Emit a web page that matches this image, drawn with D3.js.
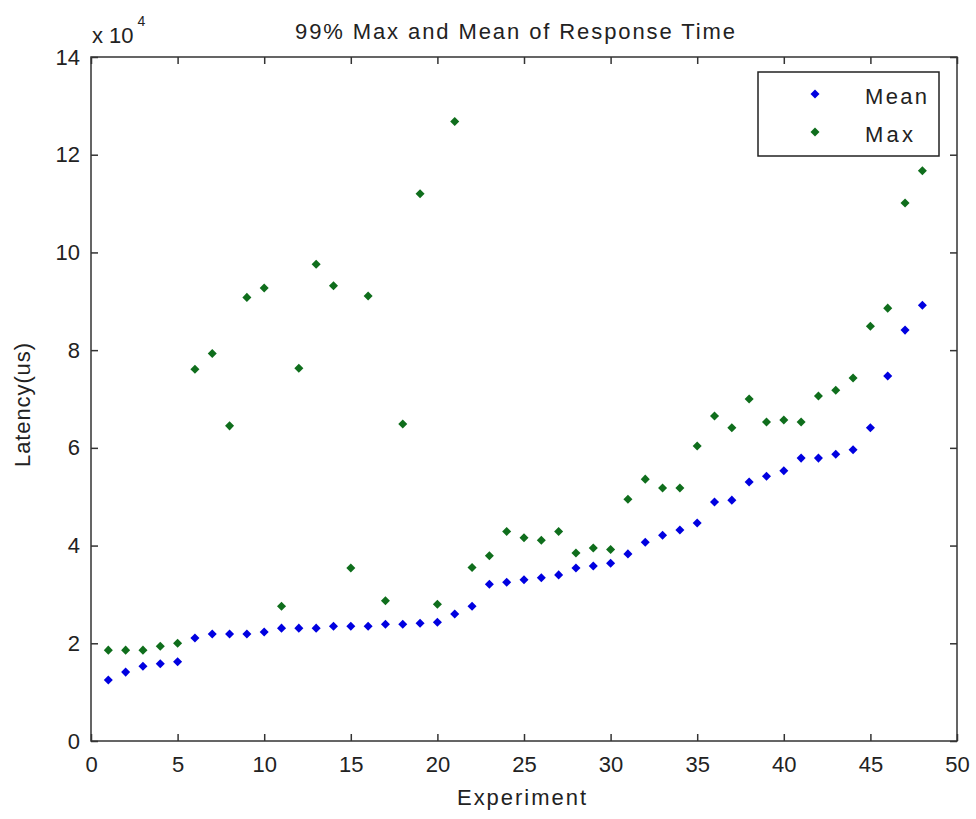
<!DOCTYPE html>
<html>
<head>
<meta charset="utf-8">
<script src="https://cdn.jsdelivr.net/npm/d3@7"></script>
<style>
  body { margin: 0; background: #fff; }
  text { font-family: "Liberation Sans", Arial, sans-serif; fill: #222; }
</style>
</head>
<body>
<div id="chart"></div>
<script>
// latency values in microseconds, experiments 1..48
const experiments = d3.range(1, 49);
const meanLatency = [12500, 14100, 15300, 15800, 16200, 21100, 21900, 21900, 21900, 22300,
  23100, 23100, 23100, 23500, 23500, 23500, 23900, 23900, 24100, 24300,
  26000, 27600, 32100, 32500, 33000, 33400, 34000, 35400, 35800, 36400,
  38300, 40700, 42100, 43200, 44600, 48900, 49300, 53000, 54200, 55300,
  57900, 57900, 58700, 59600, 64100, 74700, 84100, 89200];
const maxLatency = [18600, 18600, 18600, 19400, 20000, 76100, 79300, 64500, 90800, 92700,
  27600, 76300, 97600, 93200, 35400, 91100, 28700, 64900, 112000, 28000,
  126800, 35500, 37900, 42900, 41600, 41100, 42900, 38500, 39500, 39200,
  49500, 53600, 51800, 51800, 60400, 66500, 64100, 70000, 65300, 65700,
  65300, 70600, 71800, 74300, 84900, 88600, 110100, 116700];
const xTicks = d3.range(0, 51, 5);
const yTicks = d3.range(0, 140001, 20000);
const seriesNames = ["Mean", "Max"];
const seriesColors = ["#0000e0", "#0f6e1c"];

const width = 976, height = 819;
const margin = { left: 91, right: 19, top: 57, bottom: 78 };

const svg = d3.select("#chart").append("svg")
  .attr("width", width)
  .attr("height", height);

const x = d3.scaleLinear().domain([0, 50]).range([margin.left, width - margin.right]);
const y = d3.scaleLinear().domain([0, 140000]).range([height - margin.bottom, margin.top]);

// box
svg.append("rect")
  .attr("x", x(0)).attr("y", y(140000))
  .attr("width", x(50) - x(0)).attr("height", y(0) - y(140000))
  .attr("fill", "none").attr("stroke", "#333").attr("stroke-width", 1.5);

// axes, ticks pointing inward like matlab
const fmtY = d => d / 10000;
svg.append("g")
  .attr("transform", `translate(0,${y(0)})`)
  .call(d3.axisBottom(x).tickValues(xTicks).tickSizeInner(-7).tickSizeOuter(0).tickPadding(15))
  .call(g => g.select(".domain").remove());
svg.append("g")
  .attr("transform", `translate(0,${y(140000)})`)
  .call(d3.axisTop(x).tickValues(xTicks).tickSizeInner(-7).tickSizeOuter(0).tickFormat(""))
  .call(g => g.select(".domain").remove());
svg.append("g")
  .attr("transform", `translate(${x(0)},0)`)
  .call(d3.axisLeft(y).tickValues(yTicks).tickFormat(fmtY).tickSizeInner(-7).tickSizeOuter(0).tickPadding(11))
  .call(g => g.select(".domain").remove());
svg.append("g")
  .attr("transform", `translate(${x(50)},0)`)
  .call(d3.axisRight(y).tickValues(yTicks).tickSizeInner(-7).tickSizeOuter(0).tickFormat(""))
  .call(g => g.select(".domain").remove());

svg.selectAll(".tick line").attr("stroke", "#333").attr("stroke-width", 1.5);
svg.selectAll(".tick text").attr("font-size", 22).style("fill", "#222")
  .attr("font-family", "Liberation Sans, Arial, sans-serif");

// multiplier label
const mult = svg.append("text").attr("x", 92).attr("y", 43).attr("font-size", 22);
mult.append("tspan").text("x 10");
mult.append("tspan").attr("dx", 4).attr("dy", -17).attr("font-size", 14).text("4");

// title and labels
svg.append("text")
  .attr("x", 295).attr("y", 39)
  .attr("font-size", 22)
  .attr("textLength", 440).attr("lengthAdjust", "spacing")
  .text("99% Max and Mean of Response Time");
svg.append("text")
  .attr("x", 457).attr("y", 805)
  .attr("font-size", 22)
  .attr("textLength", 129).attr("lengthAdjust", "spacing")
  .text("Experiment");
svg.append("text")
  .attr("transform", `translate(30,467) rotate(-90)`)
  .attr("font-size", 22)
  .attr("textLength", 124).attr("lengthAdjust", "spacing")
  .text("Latency(us)");

// points
const diamond = d3.symbol().type(d3.symbolDiamond2).size(52);
const series = [meanLatency, maxLatency];
series.forEach((vals, i) => {
  svg.append("g").selectAll("path")
    .data(vals)
    .enter()
    .append("path")
    .attr("transform", (d, j) => `translate(${x(experiments[j])},${y(d)})`)
    .attr("d", diamond)
    .attr("fill", seriesColors[i]);
});

// legend
const legend = svg.append("g");
legend.append("rect")
  .attr("x", 758).attr("y", 72).attr("width", 181).attr("height", 84)
  .attr("fill", "#fff").attr("stroke", "#222").attr("stroke-width", 1.5);
const legendWidths = [62, 48];
seriesNames.forEach((name, i) => {
  const ly = 94 + i * 38;
  legend.append("path")
    .attr("transform", `translate(815,${ly})`)
    .attr("d", diamond)
    .attr("fill", seriesColors[i]);
  legend.append("text")
    .attr("x", 865).attr("y", ly + 10)
    .attr("font-size", 22)
    .attr("textLength", legendWidths[i]).attr("lengthAdjust", "spacing")
    .text(name);
});
</script>
</body>
</html>
